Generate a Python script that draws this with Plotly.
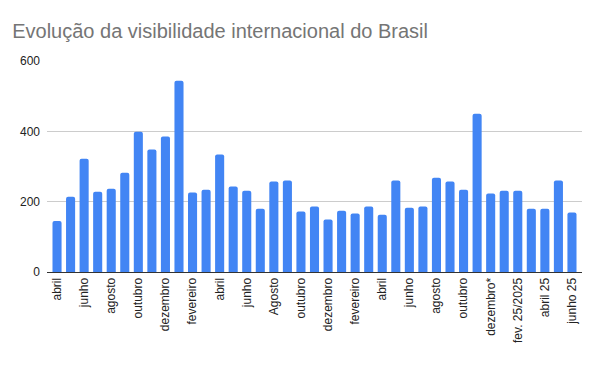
import plotly.graph_objects as go

title = "Evolução da visibilidade internacional do Brasil"

# 39 monthly values (abril ... junho 25)
values = [145, 214, 322, 228, 237, 282, 399, 348, 385, 544,
          226, 234, 334, 243, 231, 180, 257, 260, 172, 186,
          149, 174, 166, 186, 163, 260, 183, 186, 268, 257,
          234, 450, 223, 231, 231, 180, 180, 260, 169]

# labels shown on every other bar
tick_labels = ["abril", "junho", "agosto", "outubro", "dezembro", "fevereiro",
               "abril", "junho", "Agosto", "outubro", "dezembro", "fevereiro",
               "abril", "junho", "agosto", "outubro", "dezembro*", "fev. 25/2025",
               "abril 25", "junho 25"]

y_ticks = [0, 200, 400, 600]

x = list(range(len(values)))
tick_positions = x[::2]

fig = go.Figure(go.Bar(x=x, y=values, marker_color="#4285F4", marker_line_width=0))

fig.update_layout(
    width=600, height=371,
    margin=dict(l=37, r=26, t=53, b=107),
    paper_bgcolor="white", plot_bgcolor="white",
    bargap=0.33,
    barcornerradius=2,
    showlegend=False,
    font=dict(family="Arial, Liberation Sans, sans-serif", size=12, color="#222222"),
    title=dict(text=title, x=0.007, xanchor="left", y=0.938, yanchor="middle",
               font=dict(family="Arial, Liberation Sans, sans-serif", size=20, color="#757575")),
)
fig.update_xaxes(
    range=[-0.74, len(values) - 1 + 0.74],
    tickmode="array", tickvals=tick_positions, ticktext=tick_labels,
    tickangle=-90, showgrid=False, zeroline=False,
    showline=True, linecolor="#333333", linewidth=1, ticks="",
    tickfont=dict(size=12, color="#222222"),
)
fig.update_yaxes(
    range=[0, 600], tickvals=y_ticks, showgrid=True, gridcolor="#cccccc", gridwidth=1,
    zeroline=False, ticks="", tickfont=dict(size=12, color="#222222"),
    ticklabelstandoff=6,
)

fig.write_html("out.html")
